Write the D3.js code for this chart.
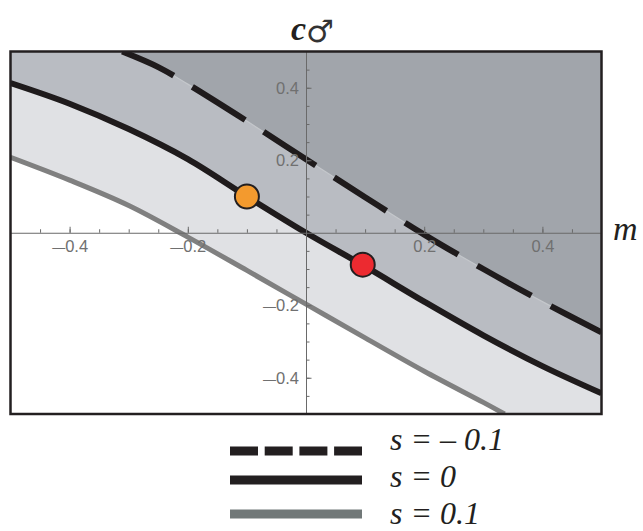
<!DOCTYPE html>
<html lang="en">
<head>
<meta charset="UTF-8">
<title>Selection boundaries in (m, c) plane</title>
<script src="https://d3js.org/d3.v7.min.js"></script>
<style>
    body { margin: 0; background: #fff; }
    .axis path, .axis line { stroke: #6a6a6a; stroke-width: 1; }
    .tick text { font-family: "Liberation Sans", Arial, sans-serif; font-size: 16.5px; fill: #707070; }
    .serif { font-family: "Liberation Serif", "Times New Roman", serif; font-style: italic; fill: #231f20; }
</style>
</head>
<body>
<svg width="643" height="531"></svg>
<script>
// curves: [m, c]
const curveNeg = [[-0.311, 0.5], [-0.25, 0.457], [-0.2, 0.41], [-0.1, 0.308], [0, 0.203], [0.1, 0.098],
                  [0.2, -0.005], [0.3, -0.1], [0.4, -0.19], [0.5, -0.275]];          // s = -0.1
const curveZero = [[-0.5, 0.413], [-0.4, 0.356], [-0.3, 0.286], [-0.2, 0.203], [-0.1, 0.1], [0, 0],
                   [0.1, -0.093], [0.2, -0.19], [0.3, -0.283], [0.4, -0.368], [0.5, -0.443]]; // s = 0
const curvePos = [[-0.5, 0.208], [-0.4, 0.145], [-0.3, 0.075], [-0.2, -0.012], [-0.1, -0.104], [0, -0.197],
                  [0.1, -0.29], [0.2, -0.382], [0.3, -0.468], [0.336, -0.5]];        // s = 0.1
const points = [{m: -0.1, c: 0.1, color: "#f39a2e"}, {m: 0.096, c: -0.088, color: "#ec2a30"}];

const xTicks = [-0.4, -0.2, 0.2, 0.4];
const yTicks = [-0.4, -0.2, 0.2, 0.4];
const minorTicks = d3.range(-9, 10).map(i => i * 0.05).filter(v => Math.abs(v) > 1e-9);
const legendLabels = ["s = \u2013 0.1", "s = 0", "s = 0.1"];

const svg = d3.select("svg");
const x = d3.scaleLinear().domain([-0.5, 0.5]).range([10.5, 601.5]);
const y = d3.scaleLinear().domain([-0.5, 0.5]).range([414, 51.5]);

const line = d3.line().x(d => x(d[0])).y(d => y(d[1])).curve(d3.curveCatmullRom);

svg.append("clipPath").attr("id", "plot")
    .append("rect")
    .attr("x", x(-0.5)).attr("y", y(0.5))
    .attr("width", x(0.5) - x(-0.5)).attr("height", y(-0.5) - y(0.5));

const plot = svg.append("g").attr("clip-path", "url(#plot)");

// shaded regions
plot.append("path")
    .attr("d", line(curvePos) + `L${x(0.5)},${y(-0.5)}L${x(0.5)},${y(0.5)}L${x(-0.5)},${y(0.5)}Z`)
    .attr("fill", "#e0e1e4");
plot.append("path")
    .attr("d", line(curveZero) + `L${x(0.5)},${y(0.5)}L${x(-0.5)},${y(0.5)}Z`)
    .attr("fill", "#b9bcc2");
plot.append("path")
    .attr("d", line(curveNeg) + `L${x(0.5)},${y(0.5)}Z`)
    .attr("fill", "#a1a5ab");

// Mathematica draws a long minus sign in tick labels
function longMinus(sel) {
    sel.selectAll(".tick text").each(function(d) {
        const t = d3.select(this);
        t.text("");
        if (d < 0) t.append("tspan").attr("font-size", 13).text("\u2014");
        t.append("tspan").text(d3.format(".1f")(Math.abs(d)));
    });
}

// axes, Mathematica style
const xa = svg.append("g").attr("class", "axis").attr("transform", `translate(0,${y(0)})`);
xa.call(d3.axisBottom(x).tickValues(minorTicks).tickSize(-3.5).tickSizeOuter(0).tickFormat(""));
xa.append("g").call(d3.axisBottom(x).tickValues(xTicks).tickSize(-6).tickSizeOuter(0).tickPadding(8))
    .call(g => g.select(".domain").remove())
    .call(longMinus);

const ya = svg.append("g").attr("class", "axis").attr("transform", `translate(${x(0)},0)`);
ya.call(d3.axisLeft(y).tickValues(minorTicks).tickSize(-3.5).tickSizeOuter(0).tickFormat(""));
ya.append("g").call(d3.axisLeft(y).tickValues(yTicks).tickSize(-5.5).tickSizeOuter(0).tickPadding(7))
    .call(g => g.select(".domain").remove())
    .call(longMinus);

// curves
plot.append("path").attr("d", line(curvePos))
    .attr("fill", "none").attr("stroke", "#808080").attr("stroke-width", 5);
plot.append("path").attr("d", line(curveZero))
    .attr("fill", "none").attr("stroke", "#1f1b1c").attr("stroke-width", 6);
plot.append("path").attr("d", line(curveNeg))
    .attr("fill", "none").attr("stroke", "#c4c7cb").attr("stroke-width", 1.2);
plot.append("path").attr("d", line(curveNeg))
    .attr("fill", "none").attr("stroke", "#1f1b1c").attr("stroke-width", 6)
    .attr("stroke-dasharray", "62 22").attr("stroke-dashoffset", 5);

plot.selectAll("circle").data(points).join("circle")
    .attr("cx", d => x(d.m)).attr("cy", d => y(d.c)).attr("r", 12)
    .attr("fill", d => d.color).attr("stroke", "#231f20").attr("stroke-width", 2);

// frame
svg.append("rect")
    .attr("x", x(-0.5)).attr("y", y(0.5))
    .attr("width", x(0.5) - x(-0.5)).attr("height", y(-0.5) - y(0.5))
    .attr("fill", "none").attr("stroke", "#231f20").attr("stroke-width", 2.5);

// axis labels
const title = svg.append("text").attr("class", "serif").attr("x", 291).attr("y", 40);
title.append("tspan").attr("font-size", 34).attr("font-weight", "bold").text("c");
title.append("tspan").attr("font-family", "DejaVu Sans").attr("font-style", "normal")
    .attr("font-size", 31).attr("dy", 2).attr("fill", "#333").text("\u2642");
svg.append("text").attr("class", "serif").attr("x", 613).attr("y", 240)
    .attr("font-size", 34).text("m");

// legend
const legendY = [451, 480, 514];
const legendBase = [450, 487, 524];
const legendStyles = [
    {stroke: "#231f20", dash: "28 6.7"},
    {stroke: "#231f20", dash: null},
    {stroke: "#717878", dash: null}
];
const legend = svg.append("g");
legendLabels.forEach((label, i) => {
    legend.append("line")
        .attr("x1", 230).attr("x2", 362).attr("y1", legendY[i]).attr("y2", legendY[i])
        .attr("stroke", legendStyles[i].stroke).attr("stroke-width", 9)
        .attr("stroke-dasharray", legendStyles[i].dash);
    legend.append("text").attr("class", "serif")
        .attr("x", 390).attr("y", legendBase[i]).attr("font-size", 32)
        .text(label);
});
</script>
</body>
</html>
